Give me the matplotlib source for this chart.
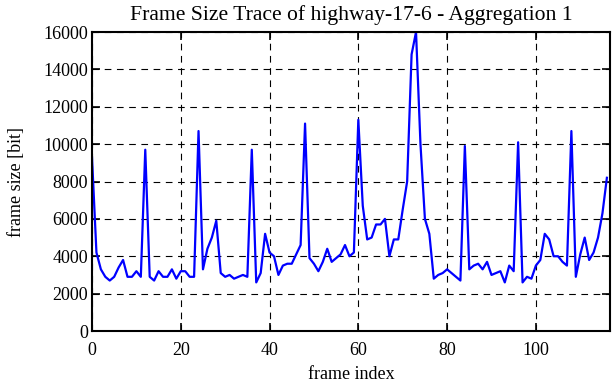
import matplotlib
matplotlib.use("Agg")
import matplotlib.pyplot as plt

# frame sizes
frame_size = [9300, 4200, 3300, 2900, 2700, 2900, 3400, 3800, 2900, 2900,
              3200, 2900, 9700, 2900, 2700, 3200, 2900, 2900, 3300, 2800,
              3200, 3200, 2900, 2900, 10700, 3300, 4400, 5000, 5900, 3100,
              2900, 3000, 2800, 2900, 3000, 2900, 9700, 2600, 3100, 5200,
              4200, 4000, 3000, 3500, 3600, 3600, 4100, 4600, 11100, 3900,
              3600, 3200, 3700, 4400, 3700, 3900, 4100, 4600, 4000, 4200,
              11300, 6700, 4900, 5000, 5700, 5700, 6000, 4000, 4900, 4900,
              6500, 8000, 14800, 16000, 10000, 6000, 5200, 2800, 3000, 3100,
              3300, 3100, 2900, 2700, 9900, 3300, 3500, 3600, 3300, 3700,
              3000, 3100, 3200, 2600, 3500, 3200, 10100, 2600, 2900, 2800,
              3500, 3800, 5200, 4900, 4000, 4000, 3700, 3500, 10700, 2900,
              4100, 5000, 3800, 4200, 5000, 6300, 8200]
frame_index = list(range(len(frame_size)))

x_ticks = [0, 20, 40, 60, 80, 100]
y_ticks = [0, 2000, 4000, 6000, 8000, 10000, 12000, 14000, 16000]

plt.rcParams['font.family'] = ['Liberation Serif', 'DejaVu Serif']
plt.rcParams['font.size'] = 13

fig = plt.figure(figsize=(6.12, 3.82), dpi=100)
ax = fig.add_axes([92/612, 1-331/382, (610-92)/612, (331-32)/382])

ax.plot(frame_index, frame_size, color='#0000ff', linewidth=1.6)

ax.set_xlim(0, 116.7)
ax.set_ylim(0, 16000)
ax.set_xticks(x_ticks)
ax.set_yticks(y_ticks)
ax.grid(True, color='black', linestyle=(0, (6, 5)), linewidth=0.8)
ax.tick_params(direction='in', length=6, width=1.2, top=True, right=True, pad=3)
ax.tick_params(axis='x', pad=8)
for s in ax.spines.values():
    s.set_linewidth(1.5)

ax.set_xlabel('frame index', labelpad=5)
ax.set_ylabel('frame size [bit]', labelpad=13)
ax.set_title('Frame Size Trace of highway-17-6 - Aggregation 1', pad=9)

fig.savefig('out.png', dpi=100)
